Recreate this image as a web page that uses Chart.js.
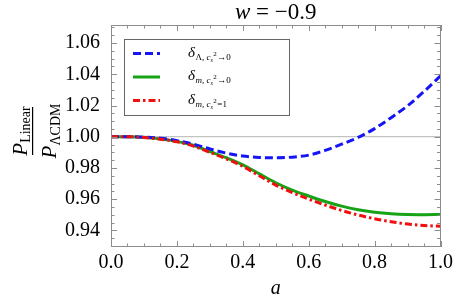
<!DOCTYPE html>
<html>
<head>
<meta charset="utf-8">
<script src="https://cdn.jsdelivr.net/npm/chart.js@4/dist/chart.umd.min.js"></script>
<style>
html,body{margin:0;padding:0;background:#fff;}
#wrap{width:455px;height:307px;position:relative;}
</style>
</head>
<body>
<div id="wrap"><canvas id="c" width="455" height="307"></canvas></div>
<script>
// ---- data ----
const aValues = [0, 0.05, 0.1, 0.15, 0.2, 0.25, 0.3, 0.35, 0.4, 0.45, 0.5, 0.55, 0.6, 0.65, 0.7, 0.75, 0.8, 0.85, 0.9, 0.95, 1.0];
const deltaLambdaCs0 = [1.0, 1.0, 0.9997, 0.9990, 0.9975, 0.9952, 0.9922, 0.9895, 0.9876, 0.9867, 0.9865, 0.9869, 0.9882, 0.9912, 0.9952, 0.9995, 1.0052, 1.0122, 1.0198, 1.0290, 1.0390];
const deltaMCs0 = [1.0, 1.0, 0.9996, 0.9985, 0.9970, 0.9945, 0.9905, 0.9865, 0.9820, 0.9762, 0.9705, 0.9658, 0.9620, 0.9585, 0.9555, 0.9532, 0.9516, 0.9506, 0.9501, 0.9500, 0.9501];
const deltaMCs1 = [1.0, 1.0, 0.9995, 0.9984, 0.9968, 0.9940, 0.9900, 0.9858, 0.9810, 0.9750, 0.9690, 0.9642, 0.9600, 0.9562, 0.9527, 0.9498, 0.9474, 0.9455, 0.9440, 0.9431, 0.9426];
const referenceLine = [1.0, 1.0];
const referenceA = [0, 1];
const xTickValues = [0, 0.2, 0.4, 0.6, 0.8, 1.0];
const yTickValues = [0.94, 0.96, 0.98, 1.00, 1.02, 1.04, 1.06];
const titleText = "w = \u22120.9";
const xAxisLabel = "a";

const toPts = (xs, ys) => xs.map((x, i) => ({x: x, y: ys[i]}));

const serif = '"Liberation Serif", "DejaVu Serif", serif';
const frameColor = '#8c8c8c';

const framePlugin = {
  id: 'framePlugin',
  afterDraw(chart) {
    const {ctx, chartArea: ca, scales} = chart;
    const xs = scales.x, ys = scales.y;
    ctx.save();
    // frame
    ctx.strokeStyle = frameColor;
    ctx.lineWidth = 1;
    ctx.strokeRect(Math.round(ca.left) + 0.5, Math.round(ca.top) + 0.5, Math.round(ca.right - ca.left) - 1, Math.round(ca.bottom - ca.top) - 1);
    // x ticks
    ctx.beginPath();
    for (let i = 0; i <= 20; i++) {
      const v = i * 0.05;
      const px = Math.round(xs.getPixelForValue(v)) + 0.5;
      const len = (i % 4 === 0) ? 6 : 3.5;
      ctx.moveTo(px, ca.bottom); ctx.lineTo(px, ca.bottom - len);
      ctx.moveTo(px, ca.top); ctx.lineTo(px, ca.top + len);
    }
    // y ticks
    for (let i = 0; i <= 40; i++) {
      const v = 0.93 + i * 0.005;
      if (v < ys.min || v > ys.max) continue;
      const py = Math.round(ys.getPixelForValue(v)) + 0.5;
      const major = Math.abs((v - 0.94) / 0.02 - Math.round((v - 0.94) / 0.02)) < 1e-6;
      const len = major ? 6 : 3.5;
      ctx.moveTo(ca.left, py); ctx.lineTo(ca.left + len, py);
      ctx.moveTo(ca.right, py); ctx.lineTo(ca.right - len, py);
    }
    ctx.stroke();

    // title
    ctx.fillStyle = '#000';
    ctx.textBaseline = 'alphabetic';
    const cx = (ca.left + ca.right) / 2;
    ctx.font = 'italic 23px ' + serif;
    const wW = ctx.measureText('w').width;
    ctx.font = '23px ' + serif;
    const restText = titleText.slice(1);
    const rW = ctx.measureText(restText).width;
    let tx = cx - (wW + rW) / 2;
    ctx.font = 'italic 23px ' + serif;
    ctx.textAlign = 'left';
    ctx.fillText('w', tx, 18.5);
    ctx.font = '23px ' + serif;
    ctx.fillText(restText, tx + wW, 18.5);

    // x axis label
    ctx.font = 'italic 20px ' + serif;
    ctx.textAlign = 'center';
    ctx.fillText(xAxisLabel, cx, 294);

    // y axis label (fraction), rotated
    ctx.save();
    ctx.translate(33, (ca.top + ca.bottom) / 2 - 5);
    ctx.rotate(-Math.PI / 2);
    ctx.textAlign = 'left';
    // numerator
    ctx.font = 'italic 21px ' + serif;
    const pW = ctx.measureText('P').width;
    ctx.font = '14px ' + serif;
    const linW = ctx.measureText('Linear').width;
    const nW = pW + linW;
    ctx.font = 'italic 21px ' + serif;
    ctx.fillText('P', -nW / 2, -6);
    ctx.font = '14px ' + serif;
    ctx.fillText('Linear', -nW / 2 + pW, -3);
    // bar
    ctx.fillRect(-24, -1, 48, 1.2);
    // denominator
    ctx.font = '14px ' + serif;
    const lcW = ctx.measureText('\u039BCDM').width;
    const dW = pW + lcW;
    ctx.font = 'italic 21px ' + serif;
    ctx.fillText('P', -dW / 2, 23);
    ctx.font = '14px ' + serif;
    ctx.fillText('\u039BCDM', -dW / 2 + pW, 27);
    ctx.restore();

    // legend box
    const lx = 124.5, ly = 39.5, lw = 165, lh = 76;
    ctx.fillStyle = '#fff';
    ctx.fillRect(lx, ly, lw, lh);
    ctx.strokeStyle = '#666';
    ctx.lineWidth = 1;
    ctx.strokeRect(lx, ly, lw, lh);
    const entries = [0, 1, 2];
    const rowY = [53.5, 77, 100.5];
    entries.forEach((di, k) => {
      const ds = chart.data.datasets[di];
      const y = rowY[k];
      ctx.save();
      ctx.strokeStyle = ds.borderColor;
      ctx.lineWidth = ds.borderWidth;
      ctx.setLineDash(ds.borderDash || []);
      ctx.beginPath();
      ctx.moveTo(133, y); ctx.lineTo(160, y);
      ctx.stroke();
      ctx.restore();
      // label: δ with compound subscript
      ctx.fillStyle = '#000';
      ctx.textAlign = 'left';
      let x = 188;
      ctx.font = 'italic 15px ' + serif;
      ctx.fillText('\u03B4', x, y + 3);
      x += ctx.measureText('\u03B4').width + 0.5;
      const sub = ds.subParts;
      ctx.font = sub[0].italic ? 'italic 9px ' + serif : '9px ' + serif;
      ctx.fillText(sub[0].t, x, y + 6);
      x += ctx.measureText(sub[0].t).width;
      ctx.font = 'italic 9px ' + serif;
      ctx.fillText('c', x, y + 6);
      x += ctx.measureText('c').width;
      ctx.font = 'italic 6px ' + serif;
      ctx.fillText('s', x, y + 8);
      const sW = ctx.measureText('s').width;
      ctx.font = '7px ' + serif;
      ctx.fillText('2', x + sW + 0.5, y + 2);
      x += sW + 0.5 + ctx.measureText('2').width + 0.5;
      ctx.font = '9px ' + serif;
      ctx.fillText(sub[1], x, y + 6);
    });
    ctx.restore();
  }
};

new Chart(document.getElementById('c'), {
  type: 'line',
  data: {
    datasets: [
      {
        label: '\u03B4_{\u039B, c_s^2\u21920}',
        subParts: [{t: '\u039B, ', italic: false}, '\u21920'],
        data: toPts(aValues, deltaLambdaCs0),
        borderColor: '#1515f5',
        borderWidth: 3,
        borderDash: [8, 4],
        pointRadius: 0,
        cubicInterpolationMode: 'monotone',
        fill: false,
        order: 1
      },
      {
        label: '\u03B4_{m, c_s^2\u21920}',
        subParts: [{t: 'm, ', italic: true}, '\u21920'],
        data: toPts(aValues, deltaMCs0),
        borderColor: '#16a316',
        borderWidth: 3,
        pointRadius: 0,
        cubicInterpolationMode: 'monotone',
        fill: false,
        order: 2
      },
      {
        label: '\u03B4_{m, c_s^2=1}',
        subParts: [{t: 'm, ', italic: true}, '=1'],
        data: toPts(aValues, deltaMCs1),
        borderColor: '#f01010',
        borderWidth: 3,
        borderDash: [7, 3, 2.5, 3],
        pointRadius: 0,
        cubicInterpolationMode: 'monotone',
        fill: false,
        order: 0
      },
      {
        label: 'reference',
        data: toPts(referenceA, referenceLine),
        borderColor: '#b4b4b4',
        borderWidth: 1,
        pointRadius: 0,
        fill: false,
        order: 5
      }
    ]
  },
  options: {
    responsive: false,
    animation: false,
    devicePixelRatio: 1,
    layout: {padding: {top: 25, right: 14.5, left: 0, bottom: 0}},
    plugins: {legend: {display: false}, tooltip: {enabled: false}, title: {display: false}},
    scales: {
      x: {
        type: 'linear', min: 0, max: 1,
        grid: {display: false}, border: {display: false},
        afterBuildTicks: (s) => { s.ticks = xTickValues.map(v => ({value: v})); },
        afterFit: (s) => { s.height = 60; },
        ticks: {
          color: '#000', padding: -4, maxRotation: 0,
          font: {family: serif, size: 20},
          callback: (v) => Number(v).toFixed(1)
        }
      },
      y: {
        type: 'linear', min: 0.9293, max: 1.0716,
        grid: {display: false}, border: {display: false},
        afterBuildTicks: (s) => { s.ticks = yTickValues.map(v => ({value: v})); },
        afterFit: (s) => { s.width = 111; },
        ticks: {
          color: '#000', padding: 3,
          font: {family: serif, size: 20},
          callback: (v) => Number(v).toFixed(2)
        }
      }
    }
  },
  plugins: [framePlugin]
});
</script>
</body>
</html>
